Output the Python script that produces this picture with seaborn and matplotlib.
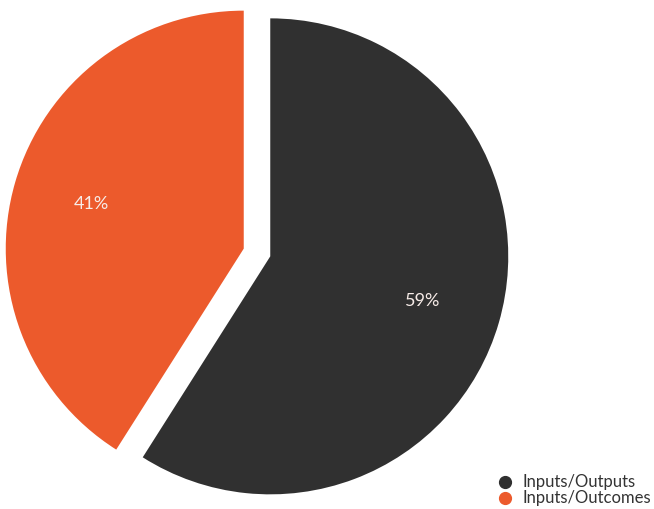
import matplotlib
matplotlib.use("Agg")
import matplotlib.pyplot as plt
from matplotlib.lines import Line2D
import seaborn as sns

# Share of measurement approaches
categories = ["Inputs/Outputs", "Inputs/Outcomes"]
shares = [59, 41]
colors = ["#303030", "#ec5a2c"]

sns.set_theme(style="white")
plt.rcParams["font.family"] = ["Lato", "DejaVu Sans"]

W, H = 654, 509
fig = plt.figure(figsize=(W / 100, H / 100), dpi=100)
ax = fig.add_axes([0, 0, 1, 1])

# Pie centre and radius expressed in pixels
cx, cy, r = 257, 252.5, 238

wedges, texts, autotexts = ax.pie(
    shares,
    colors=colors,
    startangle=90,
    counterclock=False,
    explode=[0.058, 0.058],
    autopct=lambda p: f"{round(p)}%",
    pctdistance=0.667,
    wedgeprops=dict(linewidth=0),
    textprops=dict(color="#f7ece8", fontsize=13),
)

ax.set_xlim(-cx / r, (W - cx) / r)
ax.set_ylim(-(H - cy) / r, cy / r)
ax.set_aspect("auto")
ax.axis("off")

handles = [
    Line2D([0], [0], marker="o", linestyle="", markersize=8.5,
           markerfacecolor=c, markeredgecolor=c)
    for c in colors
]
fig.legend(
    handles, categories,
    loc="lower right", bbox_to_anchor=(1.0, 0.0),
    frameon=False, fontsize=12, handletextpad=0.7,
    labelspacing=0.0, borderpad=0.0, borderaxespad=0.15,
    handlelength=0.8, labelcolor="#333333",
)

fig.savefig("out.png", dpi=100)
